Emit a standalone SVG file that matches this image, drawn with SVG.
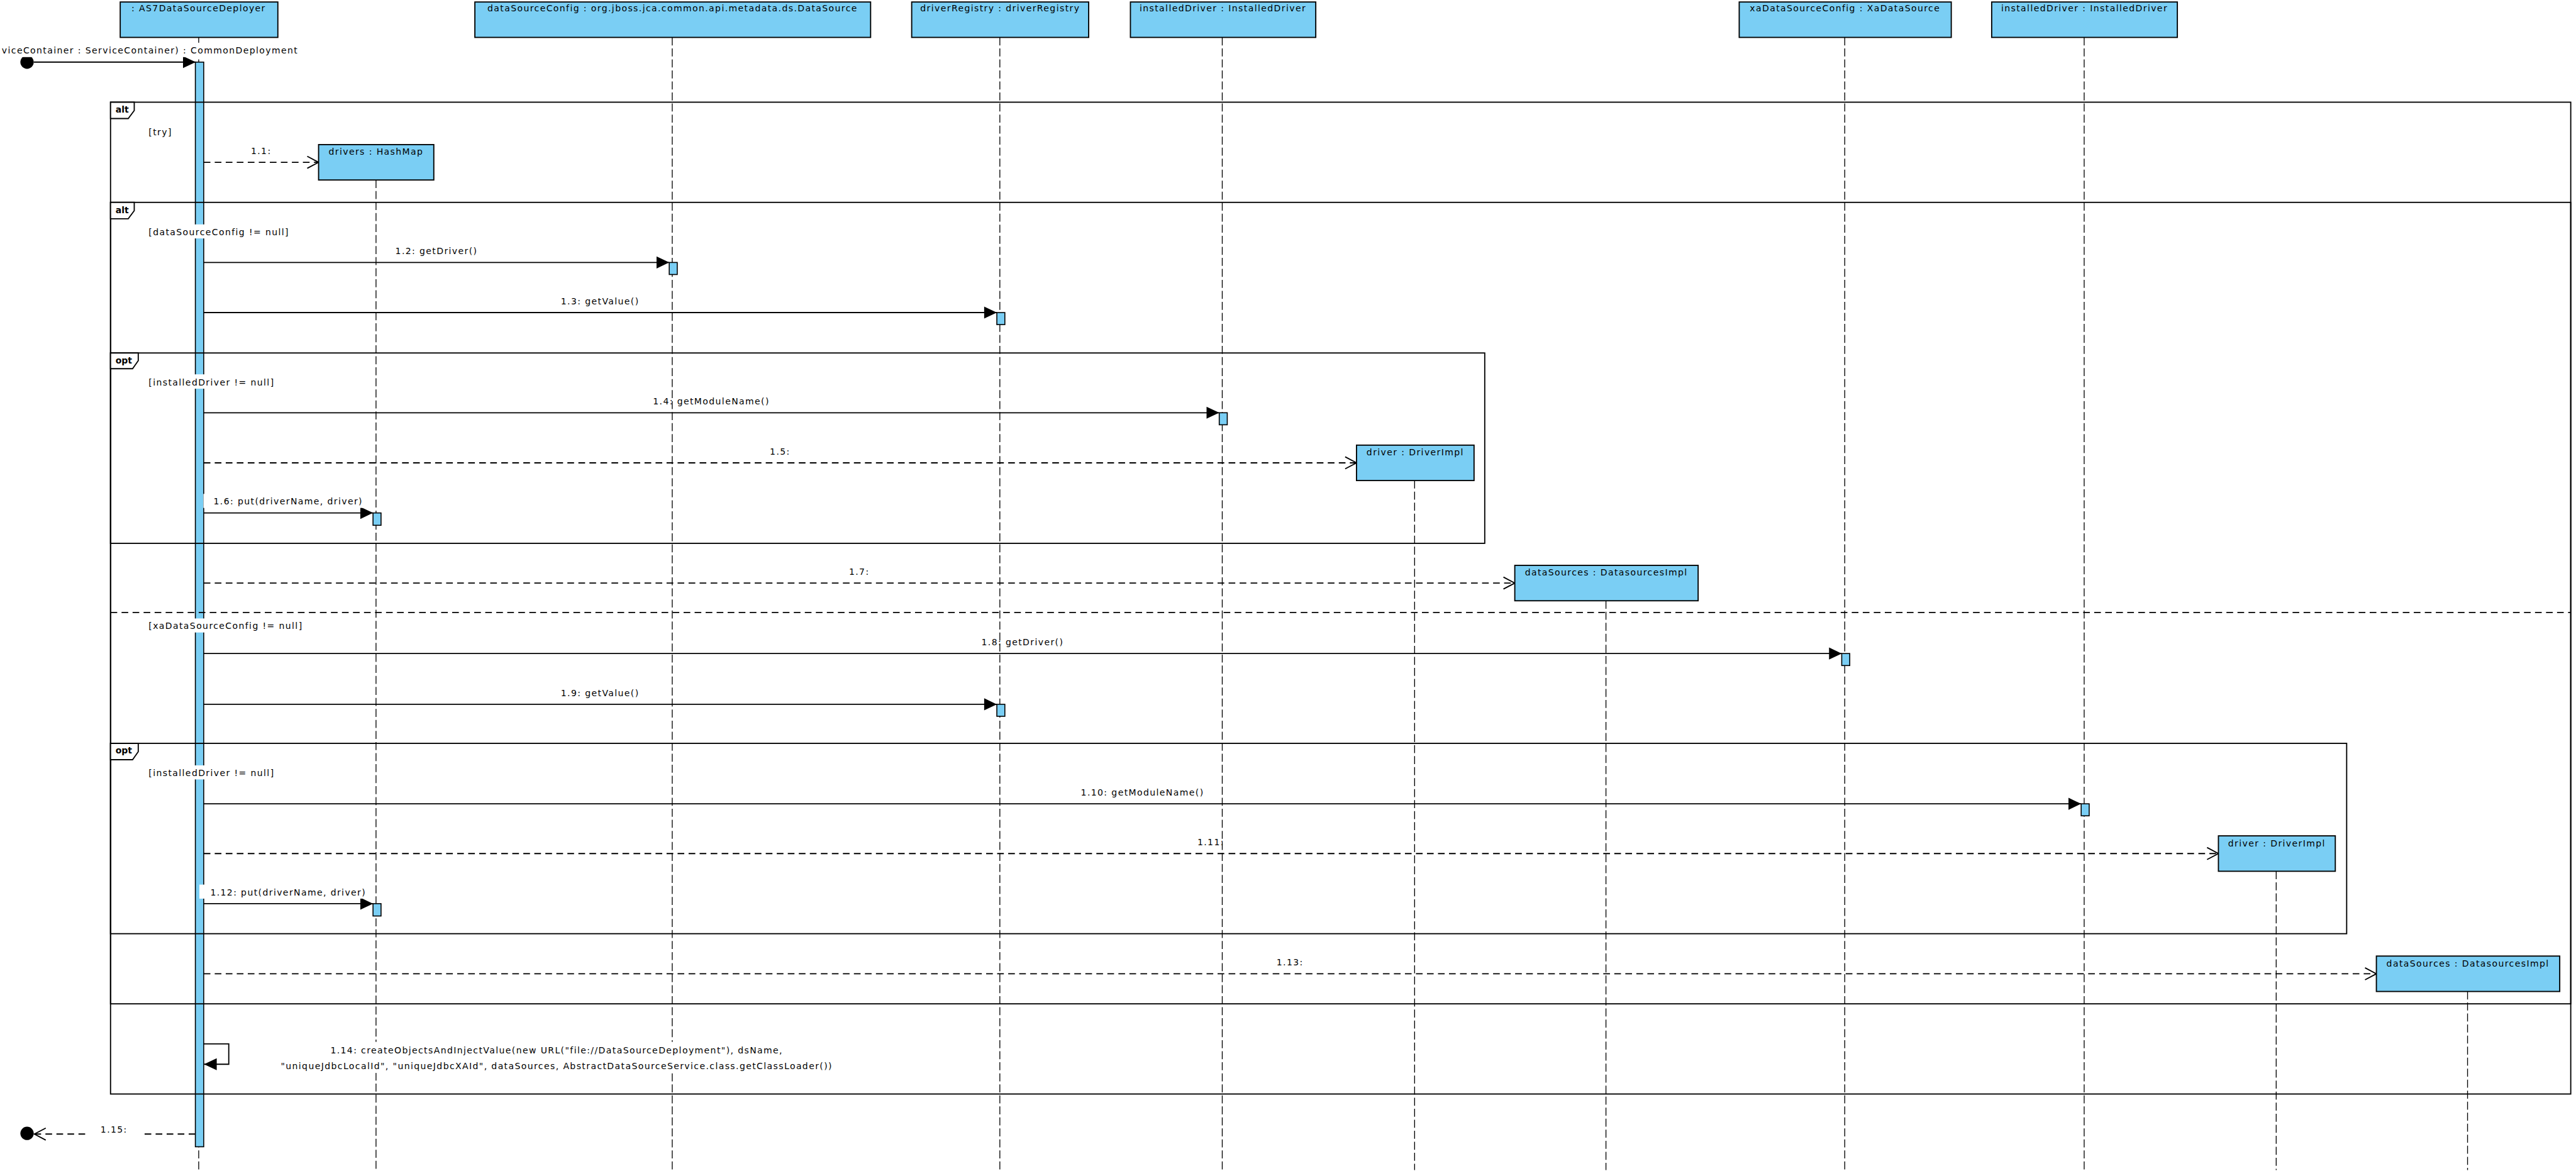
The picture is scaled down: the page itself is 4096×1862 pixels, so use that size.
<svg xmlns="http://www.w3.org/2000/svg" width="4096" height="1862" viewBox="0 0 4096 1862">
<style>
.obj{fill:#7ACEF4;stroke:#000;stroke-width:3.5}
.life{stroke:#000;stroke-width:2.5;stroke-dasharray:24 9;fill:none}
.act{fill:#7ACEF4;stroke:#000;stroke-width:3}
.msg{stroke:#000;stroke-width:3.5;fill:none}
.ret{stroke:#000;stroke-width:3.5;stroke-dasharray:20 13;fill:none}
.frame{fill:none;stroke:#000;stroke-width:3.5}
.sep{fill:none;stroke:#000;stroke-width:3.5;stroke-dasharray:20 13}
.tab{fill:#fff;stroke:#000;stroke-width:3.5}
.bg{fill:#fff;stroke:none}
.t{font-family:"DejaVu Sans",sans-serif;font-size:26.4px;letter-spacing:2.64px;fill:#000}
.c{text-anchor:middle}
.b{font-weight:bold;letter-spacing:0}
</style>
<defs>
<marker id="fill" markerUnits="userSpaceOnUse" markerWidth="42" markerHeight="42" refX="38" refY="18" orient="auto" overflow="visible">
<path d="M0,0 L38,18 L0,36 Z" fill="#000" stroke="none"/>
</marker>
<marker id="open" markerUnits="userSpaceOnUse" markerWidth="42" markerHeight="42" refX="34" refY="18" orient="auto" overflow="visible">
<path d="M0,0 L34,18 L0,36" fill="none" stroke="#000" stroke-width="3.5" stroke-dasharray="none"/>
</marker>
</defs>
<rect x="0" y="0" width="4096" height="1862" fill="#fff"/>
<g transform="scale(0.531)">

<g id="lifelines">
<line class="life" x1="595" y1="112" x2="595" y2="3504"/>
<line class="life" x1="2013" y1="112" x2="2013" y2="3504"/>
<line class="life" x1="2994" y1="112" x2="2994" y2="3504"/>
<line class="life" x1="3660" y1="112" x2="3660" y2="3504"/>
<line class="life" x1="5524" y1="112" x2="5524" y2="3504"/>
<line class="life" x1="6241" y1="112" x2="6241" y2="3504"/>
<line class="life" x1="1126" y1="539" x2="1126" y2="3504"/>
<line class="life" x1="4236" y1="1439" x2="4236" y2="3504"/>
<line class="life" x1="4809" y1="1799" x2="4809" y2="3504"/>
<line class="life" x1="6816" y1="2609" x2="6816" y2="3504"/>
<line class="life" x1="7389" y1="2969" x2="7389" y2="3504"/>
</g>

<g id="activations">
<rect class="act" x="585" y="186" width="25" height="3248"/>
<rect class="act" x="2004" y="786" width="24" height="36"/>
<rect class="act" x="2985" y="936" width="24" height="36"/>
<rect class="act" x="3651" y="1236" width="24" height="36"/>
<rect class="act" x="1117" y="1536" width="24" height="37"/>
<rect class="act" x="5515" y="1957" width="24" height="36"/>
<rect class="act" x="2985" y="2109" width="24" height="36"/>
<rect class="act" x="6232" y="2407" width="24" height="36"/>
<rect class="act" x="1117" y="2706" width="24" height="37"/>
</g>

<g id="frames">
<rect class="frame" x="331" y="306" width="7367" height="2970"/>
<rect class="frame" x="331" y="606" width="7367" height="2400"/>
<line class="sep" x1="331" y1="1834" x2="7698" y2="1834"/>
<rect class="frame" x="331" y="1057" width="4115" height="570"/>
<rect class="frame" x="331" y="2226" width="6696" height="570"/>
<path class="tab" d="M331,306 V355 H384 L402,331 V306 Z"/>
<text class="t b" x="346" y="338">alt</text>
<path class="tab" d="M331,606 V655 H384 L402,631 V606 Z"/>
<text class="t b" x="346" y="638">alt</text>
<path class="tab" d="M331,1057 V1104 H397 L414,1080 V1057 Z"/>
<text class="t b" x="346" y="1088">opt</text>
<path class="tab" d="M331,2226 V2275 H397 L414,2251 V2226 Z"/>
<text class="t b" x="346" y="2257">opt</text>
<text class="t" x="445" y="405">[try]</text>
<rect class="bg" x="440" y="672" width="430" height="42"/>
<text class="t" x="445" y="704">[dataSourceConfig != null]</text>
<rect class="bg" x="440" y="1121" width="380" height="43"/>
<text class="t" x="445" y="1154">[installedDriver != null]</text>
<rect class="bg" x="440" y="1852" width="460" height="42"/>
<text class="t" x="445" y="1884">[xaDataSourceConfig != null]</text>
<rect class="bg" x="440" y="2292" width="380" height="42"/>
<text class="t" x="445" y="2324">[installedDriver != null]</text>
</g>

<g id="connectors">
<circle cx="81" cy="186" r="20" fill="#000"/>
<line class="msg" x1="101" y1="186" x2="586" y2="186" marker-end="url(#fill)"/>
<rect class="bg" x="0" y="128" width="925" height="43"/>
<text class="t" x="893" y="161" text-anchor="end">viceContainer : ServiceContainer) : CommonDeployment</text>

<line class="ret" x1="610" y1="486" x2="954" y2="486" marker-end="url(#open)"/>
<text class="t c" x="782" y="461">1.1:</text>

<line class="msg" x1="610" y1="786" x2="2004" y2="786" marker-end="url(#fill)"/>
<text class="t c" x="1307" y="761">1.2: getDriver()</text>

<line class="msg" x1="610" y1="936" x2="2985" y2="936" marker-end="url(#fill)"/>
<text class="t c" x="1797" y="911">1.3: getValue()</text>

<line class="msg" x1="610" y1="1236" x2="3651" y2="1236" marker-end="url(#fill)"/>
<text class="t c" x="2130" y="1211">1.4: getModuleName()</text>

<line class="ret" x1="610" y1="1386" x2="4062" y2="1386" marker-end="url(#open)"/>
<text class="t c" x="2336" y="1361">1.5:</text>

<line class="msg" x1="610" y1="1536" x2="1117" y2="1536" marker-end="url(#fill)"/>
<rect class="bg" x="609" y="1479" width="496" height="42"/>
<text class="t c" x="863" y="1511">1.6: put(driverName, driver)</text>

<line class="ret" x1="610" y1="1746" x2="4536" y2="1746" marker-end="url(#open)"/>
<text class="t c" x="2573" y="1721">1.7:</text>

<line class="msg" x1="610" y1="1957" x2="5515" y2="1957" marker-end="url(#fill)"/>
<text class="t c" x="3062" y="1932">1.8: getDriver()</text>

<line class="msg" x1="610" y1="2109" x2="2985" y2="2109" marker-end="url(#fill)"/>
<text class="t c" x="1797" y="2084">1.9: getValue()</text>

<line class="msg" x1="610" y1="2407" x2="6232" y2="2407" marker-end="url(#fill)"/>
<text class="t c" x="3421" y="2382">1.10: getModuleName()</text>

<line class="ret" x1="610" y1="2556" x2="6643" y2="2556" marker-end="url(#open)"/>
<text class="t c" x="3626" y="2531">1.11:</text>

<line class="msg" x1="610" y1="2706" x2="1117" y2="2706" marker-end="url(#fill)"/>
<rect class="bg" x="597" y="2649" width="508" height="42"/>
<text class="t c" x="863" y="2681">1.12: put(driverName, driver)</text>

<line class="ret" x1="610" y1="2916" x2="7116" y2="2916" marker-end="url(#open)"/>
<text class="t c" x="3863" y="2891">1.13:</text>

<path class="msg" d="M610,3126 H685 V3187 H611" marker-end="url(#fill)"/>
<rect class="bg" x="812" y="3120" width="1713" height="93"/>
<text class="t c" x="1667" y="3155">1.14: createObjectsAndInjectValue(new URL("file://DataSourceDeployment"), dsName,</text>
<text class="t c" x="1667" y="3201">"uniqueJdbcLocalId", "uniqueJdbcXAId", dataSources, AbstractDataSourceService.class.getClassLoader())</text>

<line class="ret" x1="585" y1="3396" x2="103" y2="3396" marker-end="url(#open)"/>
<circle cx="81" cy="3394" r="20" fill="#000"/>
<rect class="bg" x="267" y="3360" width="160" height="42"/>
<text class="t" x="301" y="3392">1.15:</text>
</g>

<g id="node-as7">
<rect class="obj" x="360" y="6" width="472" height="106"/>
<text class="t c" x="595" y="33">: AS7DataSourceDeployer</text>
</g>
<g id="node-dataSourceConfig">
<rect class="obj" x="1422" y="6" width="1185" height="106"/>
<text class="t c" x="2014" y="33">dataSourceConfig : org.jboss.jca.common.api.metadata.ds.DataSource</text>
</g>
<g id="node-driverRegistry">
<rect class="obj" x="2730" y="6" width="530" height="106"/>
<text class="t c" x="2995" y="33">driverRegistry : driverRegistry</text>
</g>
<g id="node-installedDriver1">
<rect class="obj" x="3385" y="6" width="555" height="106"/>
<text class="t c" x="3662" y="33">installedDriver : InstalledDriver</text>
</g>
<g id="node-xaDataSourceConfig">
<rect class="obj" x="5208" y="6" width="635" height="106"/>
<text class="t c" x="5525" y="33">xaDataSourceConfig : XaDataSource</text>
</g>
<g id="node-installedDriver2">
<rect class="obj" x="5964" y="6" width="556" height="106"/>
<text class="t c" x="6242" y="33">installedDriver : InstalledDriver</text>
</g>
<g id="node-drivers">
<rect class="obj" x="954" y="433" width="345" height="106"/>
<text class="t c" x="1126" y="463">drivers : HashMap</text>
</g>
<g id="node-driver1">
<rect class="obj" x="4062" y="1333" width="352" height="106"/>
<text class="t c" x="4238" y="1364">driver : DriverImpl</text>
</g>
<g id="node-dataSources1">
<rect class="obj" x="4536" y="1693" width="549" height="106"/>
<text class="t c" x="4810" y="1724">dataSources : DatasourcesImpl</text>
</g>
<g id="node-driver2">
<rect class="obj" x="6643" y="2503" width="350" height="106"/>
<text class="t c" x="6818" y="2534">driver : DriverImpl</text>
</g>
<g id="node-dataSources2">
<rect class="obj" x="7116" y="2863" width="549" height="106"/>
<text class="t c" x="7390" y="2894">dataSources : DatasourcesImpl</text>
</g>

</g>
</svg>
